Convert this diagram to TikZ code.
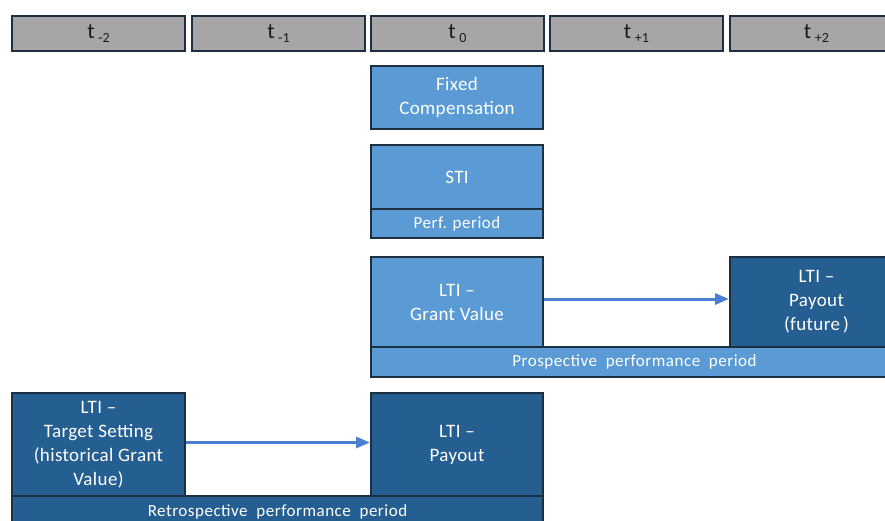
\documentclass[tikz,border=0pt]{standalone}
\usepackage{fontspec}
\setmainfont{Carlito}
\usetikzlibrary{arrows.meta}
\definecolor{lb}{HTML}{5B9BD5}
\definecolor{db}{HTML}{255E91}
\definecolor{gr}{HTML}{A6A6A6}
\definecolor{bd}{HTML}{1C3041}
\definecolor{ar}{HTML}{4A7FD1}
\newfontfamily\mainsp[LetterSpace=2]{Carlito}
\newfontfamily\smallsp[LetterSpace=3]{Carlito}
\newcommand{\tsub}[1]{t\,\raisebox{-4pt}{\fontsize{14}{14}\selectfont #1}}
\begin{document}
\begin{tikzpicture}[x=1pt,y=-1pt,
  box/.style={draw=bd,line width=2pt,inner sep=0pt,anchor=north west,align=center,text=white,
    font=\mainsp\fontsize{19}{24}\selectfont},
  light/.style={box,fill=lb},
  dark/.style={box,fill=db},
  smalltext/.style={font=\smallsp\fontsize{17}{20}\selectfont},
  hdr/.style={box,fill=gr,text=black!90,minimum width=173pt,minimum height=35pt,font=\fontsize{22}{24}\selectfont},
  conn/.style={draw=ar,line width=3pt,-{Triangle[length=14pt,width=11pt]}}]
\useasboundingbox (0,0) rectangle (885,521);
\clip (0,0) rectangle (885,521);
\node[hdr] (h1) at (11,15) {\tsub{-2}};
\node[hdr] (h2) at (191,15) {\tsub{-1}};
\node[hdr] (h3) at (370,15) {\tsub{0}};
\node[hdr] (h4) at (549,15) {\tsub{+1}};
\node[hdr] (h5) at (729,15) {\tsub{+2}};
\node[light,minimum width=172pt,minimum height=63pt] (fixed) at (370,65) {Fixed\\Compensation};
\node[light,minimum width=172pt,minimum height=64pt] (sti) at (370,144) {STI};
\node[light,smalltext,minimum width=172pt,minimum height=29pt] (perf) at (370,208) {Perf. period};
\node[light,minimum width=172pt,minimum height=90pt] (gv) at (370,256) {LTI –\\Grant Value};
\node[dark,minimum width=173pt,minimum height=90pt] (pf) at (729,256) {LTI –\\Payout\\(future\,)};
\node[light,smalltext,minimum width=527pt,minimum height=30pt] (pro) at (370,346) {Prospective\ \ performance\ \ period};
\node[dark,minimum width=173pt,minimum height=103pt] (ts) at (11,392) {LTI –\\Target Setting\\(historical Grant\\Value)};
\node[dark,minimum width=172pt,minimum height=103pt] (po) at (370,392) {LTI –\\Payout};
\node[dark,smalltext,minimum width=531pt,minimum height=32pt] (retro) at (11,495) {Retrospective\ \ performance\ \ period};
\draw[conn] ([yshift=3pt]gv.east) -- ([yshift=3pt]pf.west);
\draw[conn] ([yshift=2pt]ts.east) -- ([yshift=2pt]po.west);
\end{tikzpicture}
\end{document}
